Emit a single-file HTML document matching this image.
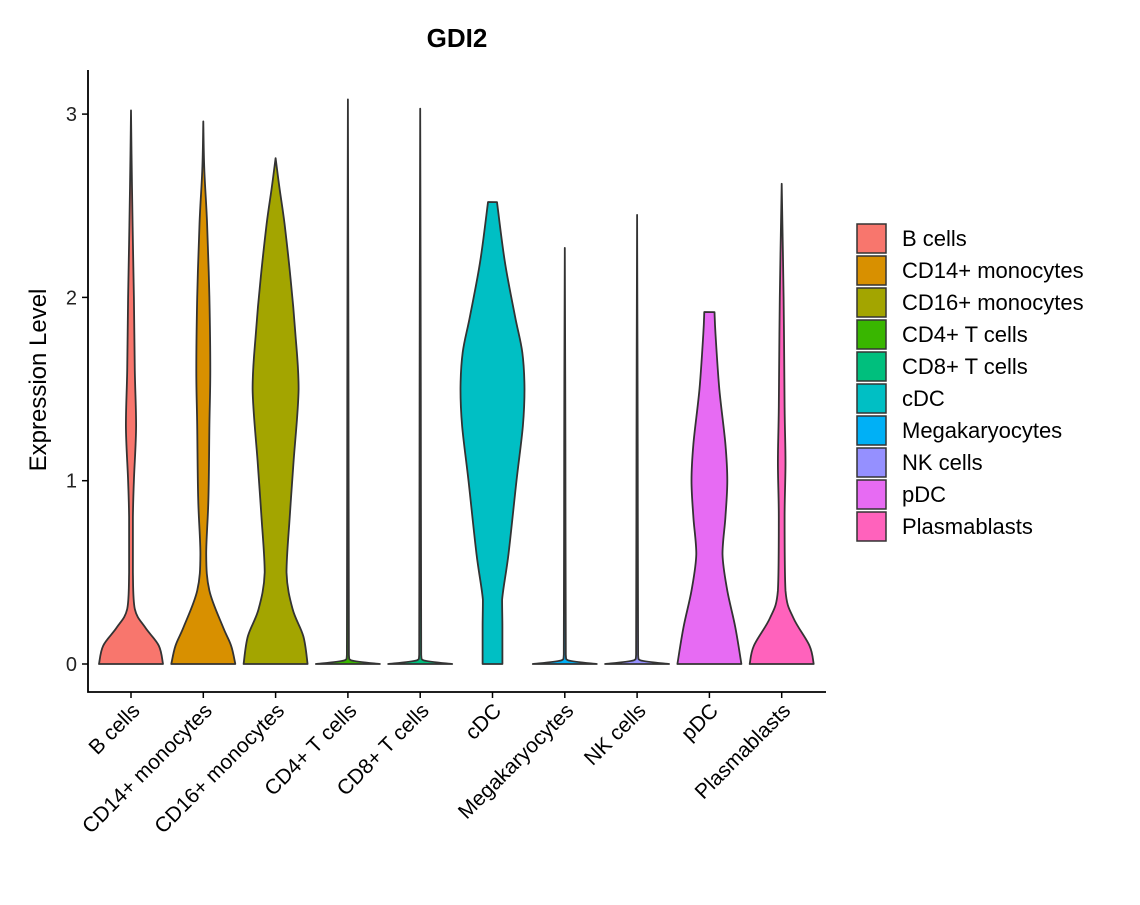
<!DOCTYPE html>
<html><head><meta charset="utf-8"><style>
body{margin:0;background:#fff;}
svg text{font-family:"Liberation Sans","DejaVu Sans",sans-serif;}
</style></head><body>
<svg id="chart" width="1140" height="900" xmlns="http://www.w3.org/2000/svg">
<text x="457" y="47" text-anchor="middle" font-size="26" font-weight="bold">GDI2</text>
<text transform="translate(46,380) rotate(-90)" text-anchor="middle" font-size="24">Expression Level</text>
<g id="plot"></g>
<g id="legend"></g>
</svg>
<script>
const categories=["B cells","CD14+ monocytes","CD16+ monocytes","CD4+ T cells","CD8+ T cells","cDC","Megakaryocytes","NK cells","pDC","Plasmablasts"];
const colors=["#F8766D","#D89000","#A3A500","#39B600","#00BF7D","#00BFC4","#00B0F6","#9590FF","#E76BF3","#FF62BC"];
const yTicks=[0,1,2,3];
// density profiles: values (expression levels) and relative half-widths (0..1)
const levels=[
[0,0.1,0.2,0.3,0.5,0.8,1.0,1.3,1.6,2.0,2.3,2.6,3.02],
[0,0.1,0.2,0.4,0.6,0.9,1.3,1.6,2.0,2.4,2.7,2.96],
[0,0.15,0.3,0.5,0.8,1.1,1.5,1.8,2.1,2.4,2.6,2.76],
[0,0.02,0.05,1.5,3.08],
[0,0.02,0.05,1.5,3.03],
[0,0.2,0.35,0.6,1.0,1.3,1.5,1.7,1.9,2.2,2.52],
[0,0.02,0.05,1.2,2.27],
[0,0.02,0.05,1.2,2.45],
[0,0.2,0.4,0.6,0.8,1.0,1.2,1.5,1.8,1.92],
[0,0.1,0.25,0.4,0.8,1.1,1.4,2.0,2.62]
];
const densities=[
[1,0.87,0.44,0.12,0.06,0.06,0.09,0.16,0.12,0.09,0.06,0.03,0],
[1,0.87,0.62,0.19,0.09,0.16,0.19,0.22,0.19,0.12,0.03,0],
[1,0.87,0.53,0.34,0.44,0.56,0.72,0.62,0.47,0.28,0.12,0],
[1,0.1,0.03,0.02,0],
[1,0.1,0.03,0.02,0],
[0.31,0.31,0.3,0.5,0.75,0.95,1,0.93,0.7,0.38,0.14],
[1,0.1,0.03,0.02,0],
[1,0.1,0.03,0.02,0],
[1,0.81,0.56,0.41,0.5,0.56,0.5,0.31,0.19,0.16],
[1,0.87,0.37,0.12,0.09,0.12,0.09,0.06,0]
];
const NS="http://www.w3.org/2000/svg";
const x0=88,x1=826,yAxisBottom=692;
const y=v=>664-v*183.3;
const x=i=>131+i*72.3;
const maxHalf=32;
const plot=document.getElementById('plot');
function mk(t,a){const e=document.createElementNS(NS,t);for(const k in a)e.setAttribute(k,a[k]);return e;}
function cl(v,a,b){const lo=Math.min(a,b),hi=Math.max(a,b);return Math.max(lo,Math.min(hi,v));}
function segs(pts){let d="";for(let i=0;i<pts.length-1;i++){const p0=pts[Math.max(0,i-1)],p1=pts[i],p2=pts[i+1],p3=pts[Math.min(pts.length-1,i+2)];
const c1=[cl(p1[0]+(p2[0]-p0[0])/6,p1[0],p2[0]),cl(p1[1]+(p2[1]-p0[1])/6,p1[1],p2[1])];
const c2=[cl(p2[0]-(p3[0]-p1[0])/6,p1[0],p2[0]),cl(p2[1]-(p3[1]-p1[1])/6,p1[1],p2[1])];
d+=`C${c1[0].toFixed(1)},${c1[1].toFixed(1)} ${c2[0].toFixed(1)},${c2[1].toFixed(1)} ${p2[0].toFixed(1)},${p2[1].toFixed(1)}`;}return d;}
categories.forEach((c,i)=>{
  const cx=x(i),L=levels[i],D=densities[i];
  const right=L.map((v,k)=>[cx+D[k]*maxHalf,y(v)]);
  const left=L.map((v,k)=>[cx-D[k]*maxHalf,y(v)]).reverse();
  let d="M"+right[0][0]+","+right[0][1]+segs(right)+"L"+left[0][0]+","+left[0][1]+segs(left)+"Z";
  const p=mk('path',{d:d,fill:colors[i],stroke:"#333",'stroke-width':1.8,'stroke-linejoin':'round'});
  
  
  plot.appendChild(p);
  const t=mk('line',{x1:cx,x2:cx,y1:yAxisBottom,y2:yAxisBottom+6,stroke:"#000",'stroke-width':1.5});
  
  
  plot.appendChild(t);
  const lb=mk('text',{transform:`translate(${cx+10},${yAxisBottom+20}) rotate(-45)`,'text-anchor':'end','font-size':21,fill:'#000'});
  lb.textContent=c;
  
  
  plot.appendChild(lb);
});
yTicks.forEach(v=>{
  const t=mk('line',{x1:x0-6,x2:x0,y1:y(v),y2:y(v),stroke:"#000",'stroke-width':1.5});
  
  
  plot.appendChild(t);
  const lb=mk('text',{x:x0-11,y:y(v)+7,'text-anchor':'end','font-size':20,fill:'#222'});
  lb.textContent=v;
  
  
  plot.appendChild(lb);
});
const ax=mk('path',{d:`M${x0},70V${yAxisBottom}H${x1}`,fill:'none',stroke:'#000','stroke-width':1.8});


plot.appendChild(ax);
const lg=document.getElementById('legend');
categories.forEach((c,i)=>{
  const g=mk('g',{});
  
  
  g.appendChild(mk('rect',{x:857,y:224+i*32,width:29,height:29,fill:colors[i],stroke:'#333','stroke-width':1.5}));
  const t=mk('text',{x:902,y:246+i*32,'font-size':22,fill:'#000'});
  t.textContent=c;
  g.appendChild(t);
  lg.appendChild(g);
});
</script>
</body></html>
